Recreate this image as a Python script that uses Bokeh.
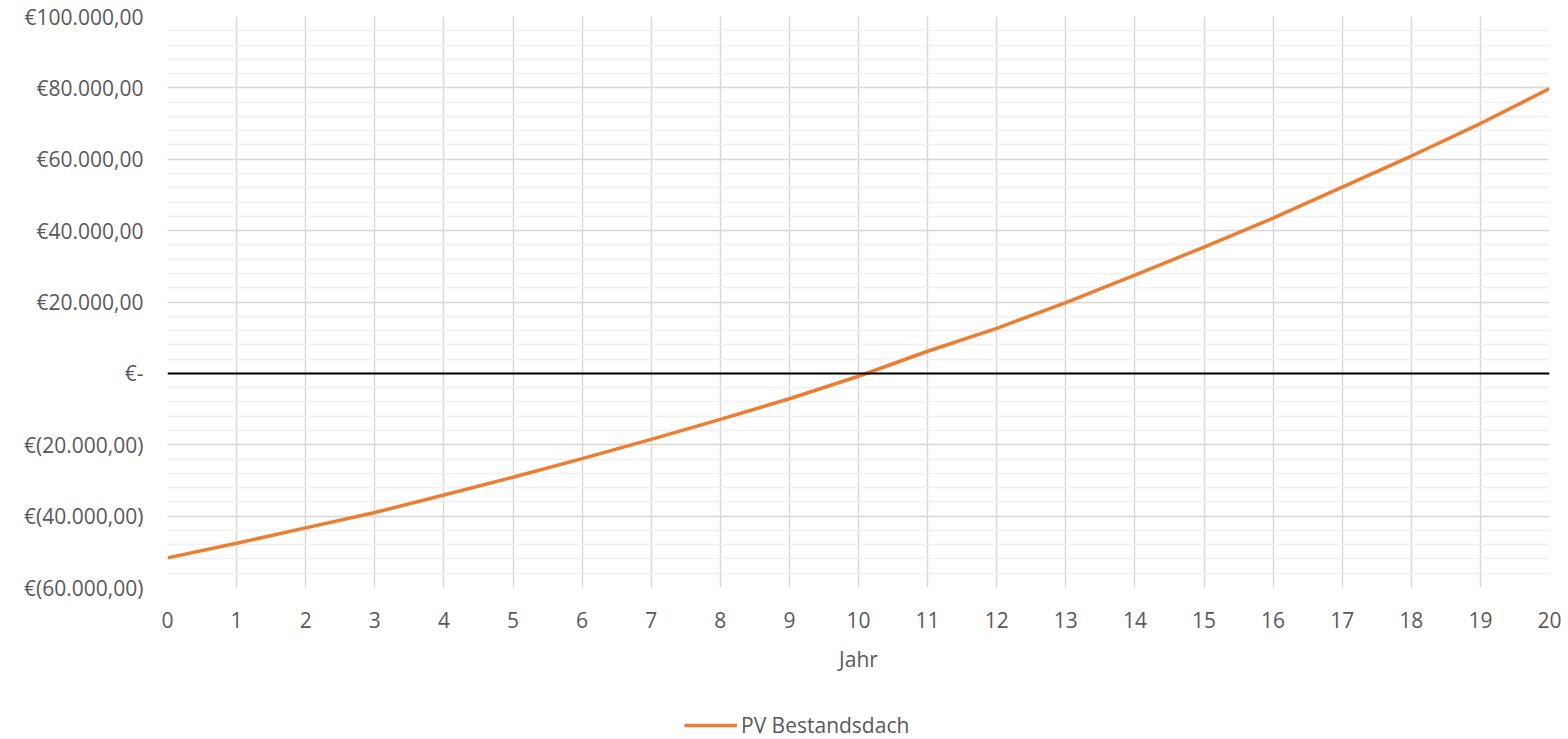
from bokeh.plotting import figure
from bokeh.layouts import column
from bokeh.models import FixedTicker, Span, Legend, LegendItem, Range1d
from bokeh.embed import file_html
from bokeh.resources import INLINE

# Data
years = list(range(0, 21))
pv_bestandsdach = [-51700, -47600, -43300, -39000, -34100, -29100, -23900, -18500,
                   -12900, -7100, -800, 6200, 12600, 19800, 27500, 35400, 43500,
                   52200, 60900, 70000, 79800]
y_tick_values = [-60000, -40000, -20000, 0, 20000, 40000, 60000, 80000, 100000]
y_tick_labels = ["€(60.000,00)", "€(40.000,00)", "€(20.000,00)", "€-",
                 "€20.000,00", "€40.000,00", "€60.000,00", "€80.000,00", "€100.000,00"]
y_minor_values = list(range(-60000, 100001, 4000))
x_tick_values = years
series_name = "PV Bestandsdach"
x_title = "Jahr"

FONT = "Open Sans"
TXT = "#595959"
ORANGE = "#ED7D31"

chart = figure(width=1568, height=694, output_backend="svg", toolbar_location=None,
               x_range=Range1d(0, 20), y_range=Range1d(-60000, 100000),
               min_border_left=167, min_border_right=19, min_border_top=16, min_border_bottom=107)
chart.outline_line_color = None
chart.background_fill_color = "white"

# axes
chart.xaxis.ticker = FixedTicker(ticks=x_tick_values)
chart.yaxis.ticker = FixedTicker(ticks=y_tick_values, minor_ticks=y_minor_values)
chart.yaxis.major_label_overrides = {v: l for v, l in zip(y_tick_values, y_tick_labels)}
for ax in (chart.xaxis, chart.yaxis):
    ax.axis_line_color = None
    ax.major_tick_line_color = None
    ax.minor_tick_line_color = None
    ax.major_label_text_font = FONT
    ax.major_label_text_font_size = "21px"
    ax.major_label_text_color = TXT
chart.yaxis.major_label_standoff = 18
chart.xaxis.major_label_standoff = 18
chart.xaxis.axis_label = x_title
chart.xaxis.axis_label_text_font = FONT
chart.xaxis.axis_label_text_font_size = "21px"
chart.xaxis.axis_label_text_font_style = "normal"
chart.xaxis.axis_label_text_color = TXT
chart.xaxis.axis_label_standoff = 14

# grids
chart.xgrid.grid_line_color = "#d9d9d9"
chart.xgrid.grid_line_width = 1.5
chart.ygrid.grid_line_color = "#d9d9d9"
chart.ygrid.grid_line_width = 1.5
chart.ygrid.minor_grid_line_color = "#f0f0f0"
chart.ygrid.minor_grid_line_width = 1.5

zero = Span(location=0, dimension="width", line_color="black", line_width=2)
chart.add_layout(zero)

chart.line(years, pv_bestandsdach, line_color=ORANGE, line_width=3.5)

# legend strip below the chart (series drawn out of view, only its legend shows)
leg = figure(width=1568, height=45, output_backend="svg", toolbar_location=None,
             x_axis_location=None, y_axis_location=None,
             x_range=Range1d(0, 20), y_range=Range1d(200000, 300000),
             min_border_left=0, min_border_right=0, min_border_top=0, min_border_bottom=0)
leg.outline_line_color = None
leg.grid.visible = False
lr = leg.line(years, pv_bestandsdach, line_color=ORANGE, line_width=3.5)
legend = Legend(items=[LegendItem(label=series_name, renderers=[lr])],
                location=(517, 0), orientation="horizontal",
                label_text_font=FONT, label_text_font_size="21px", label_text_color=TXT,
                background_fill_alpha=0, border_line_color=None,
                glyph_width=53, label_standoff=4, padding=0, margin=0, spacing=0)
leg.add_layout(legend, "center")

p = column(chart, leg, spacing=0)

open("out.html", "w").write(file_html(p, INLINE))
